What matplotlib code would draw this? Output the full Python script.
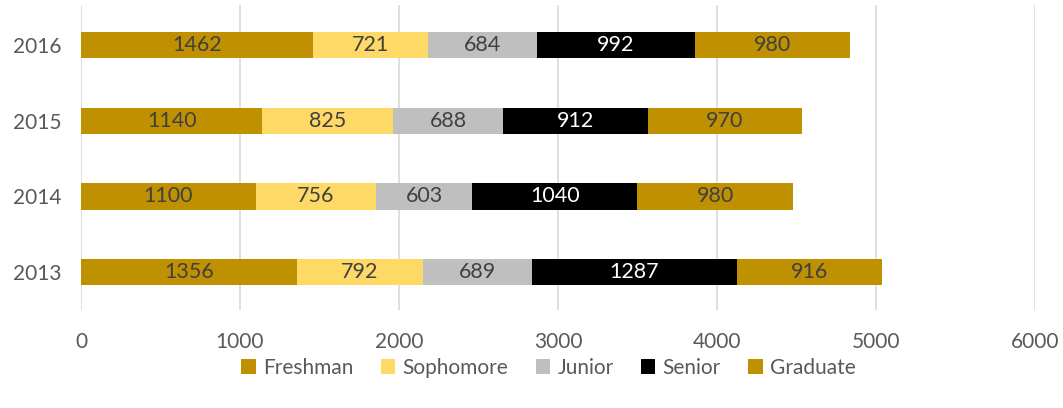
import matplotlib
matplotlib.use("Agg")
import matplotlib.pyplot as plt
import numpy as np

years = ["2013", "2014", "2015", "2016"]
series = ["Freshman", "Sophomore", "Junior", "Senior", "Graduate"]
freshman = [1356, 1100, 1140, 1462]
sophomore = [792, 756, 825, 721]
junior = [689, 603, 688, 684]
senior = [1287, 1040, 912, 992]
graduate = [916, 980, 970, 980]
colors = ["#BF9000", "#FFD966", "#BFBFBF", "#000000", "#BF9000"]
label_colors = ["#404040", "#404040", "#404040", "#FFFFFF", "#404040"]

plt.rcParams['font.family'] = ['Lato', 'DejaVu Sans']
fig = plt.figure(figsize=(10.63, 4.08), dpi=100)
ax = fig.add_axes([81/1063, 98/408, 954/1063, 305/408])

y = np.arange(len(years))
left = np.zeros(len(years))
for name, vals, c, lc in zip(series, [freshman, sophomore, junior, senior, graduate], colors, label_colors):
    bars = ax.barh(y, vals, left=left, height=0.345, color=c, label=name, zorder=3)
    ax.bar_label(bars, labels=[str(v) for v in vals], label_type='center', color=lc, fontsize=15.5)
    left += np.array(vals)

ax.set_xlim(0, 6000)
ax.set_ylim(-0.5, 3.53)
ax.set_xticks(range(0, 6001, 1000))
ax.set_yticks(y)
ax.set_yticklabels(years)
ax.grid(axis='x', color='#D9D9D9', linewidth=1.2, zorder=0)
for s in ax.spines.values():
    s.set_visible(False)
ax.tick_params(axis='both', length=0, labelsize=15, labelcolor='#595959')
ax.tick_params(axis='x', pad=16)
ax.tick_params(axis='y', pad=14)

leg = fig.legend(loc='center', bbox_to_anchor=(0.516, 40/408), ncol=5, frameon=False,
                 fontsize=15, handlelength=0.7, handleheight=0.7, handletextpad=0.35,
                 columnspacing=1.3)
for t in leg.get_texts():
    t.set_color('#595959')

fig.savefig("out.png", dpi=100)
